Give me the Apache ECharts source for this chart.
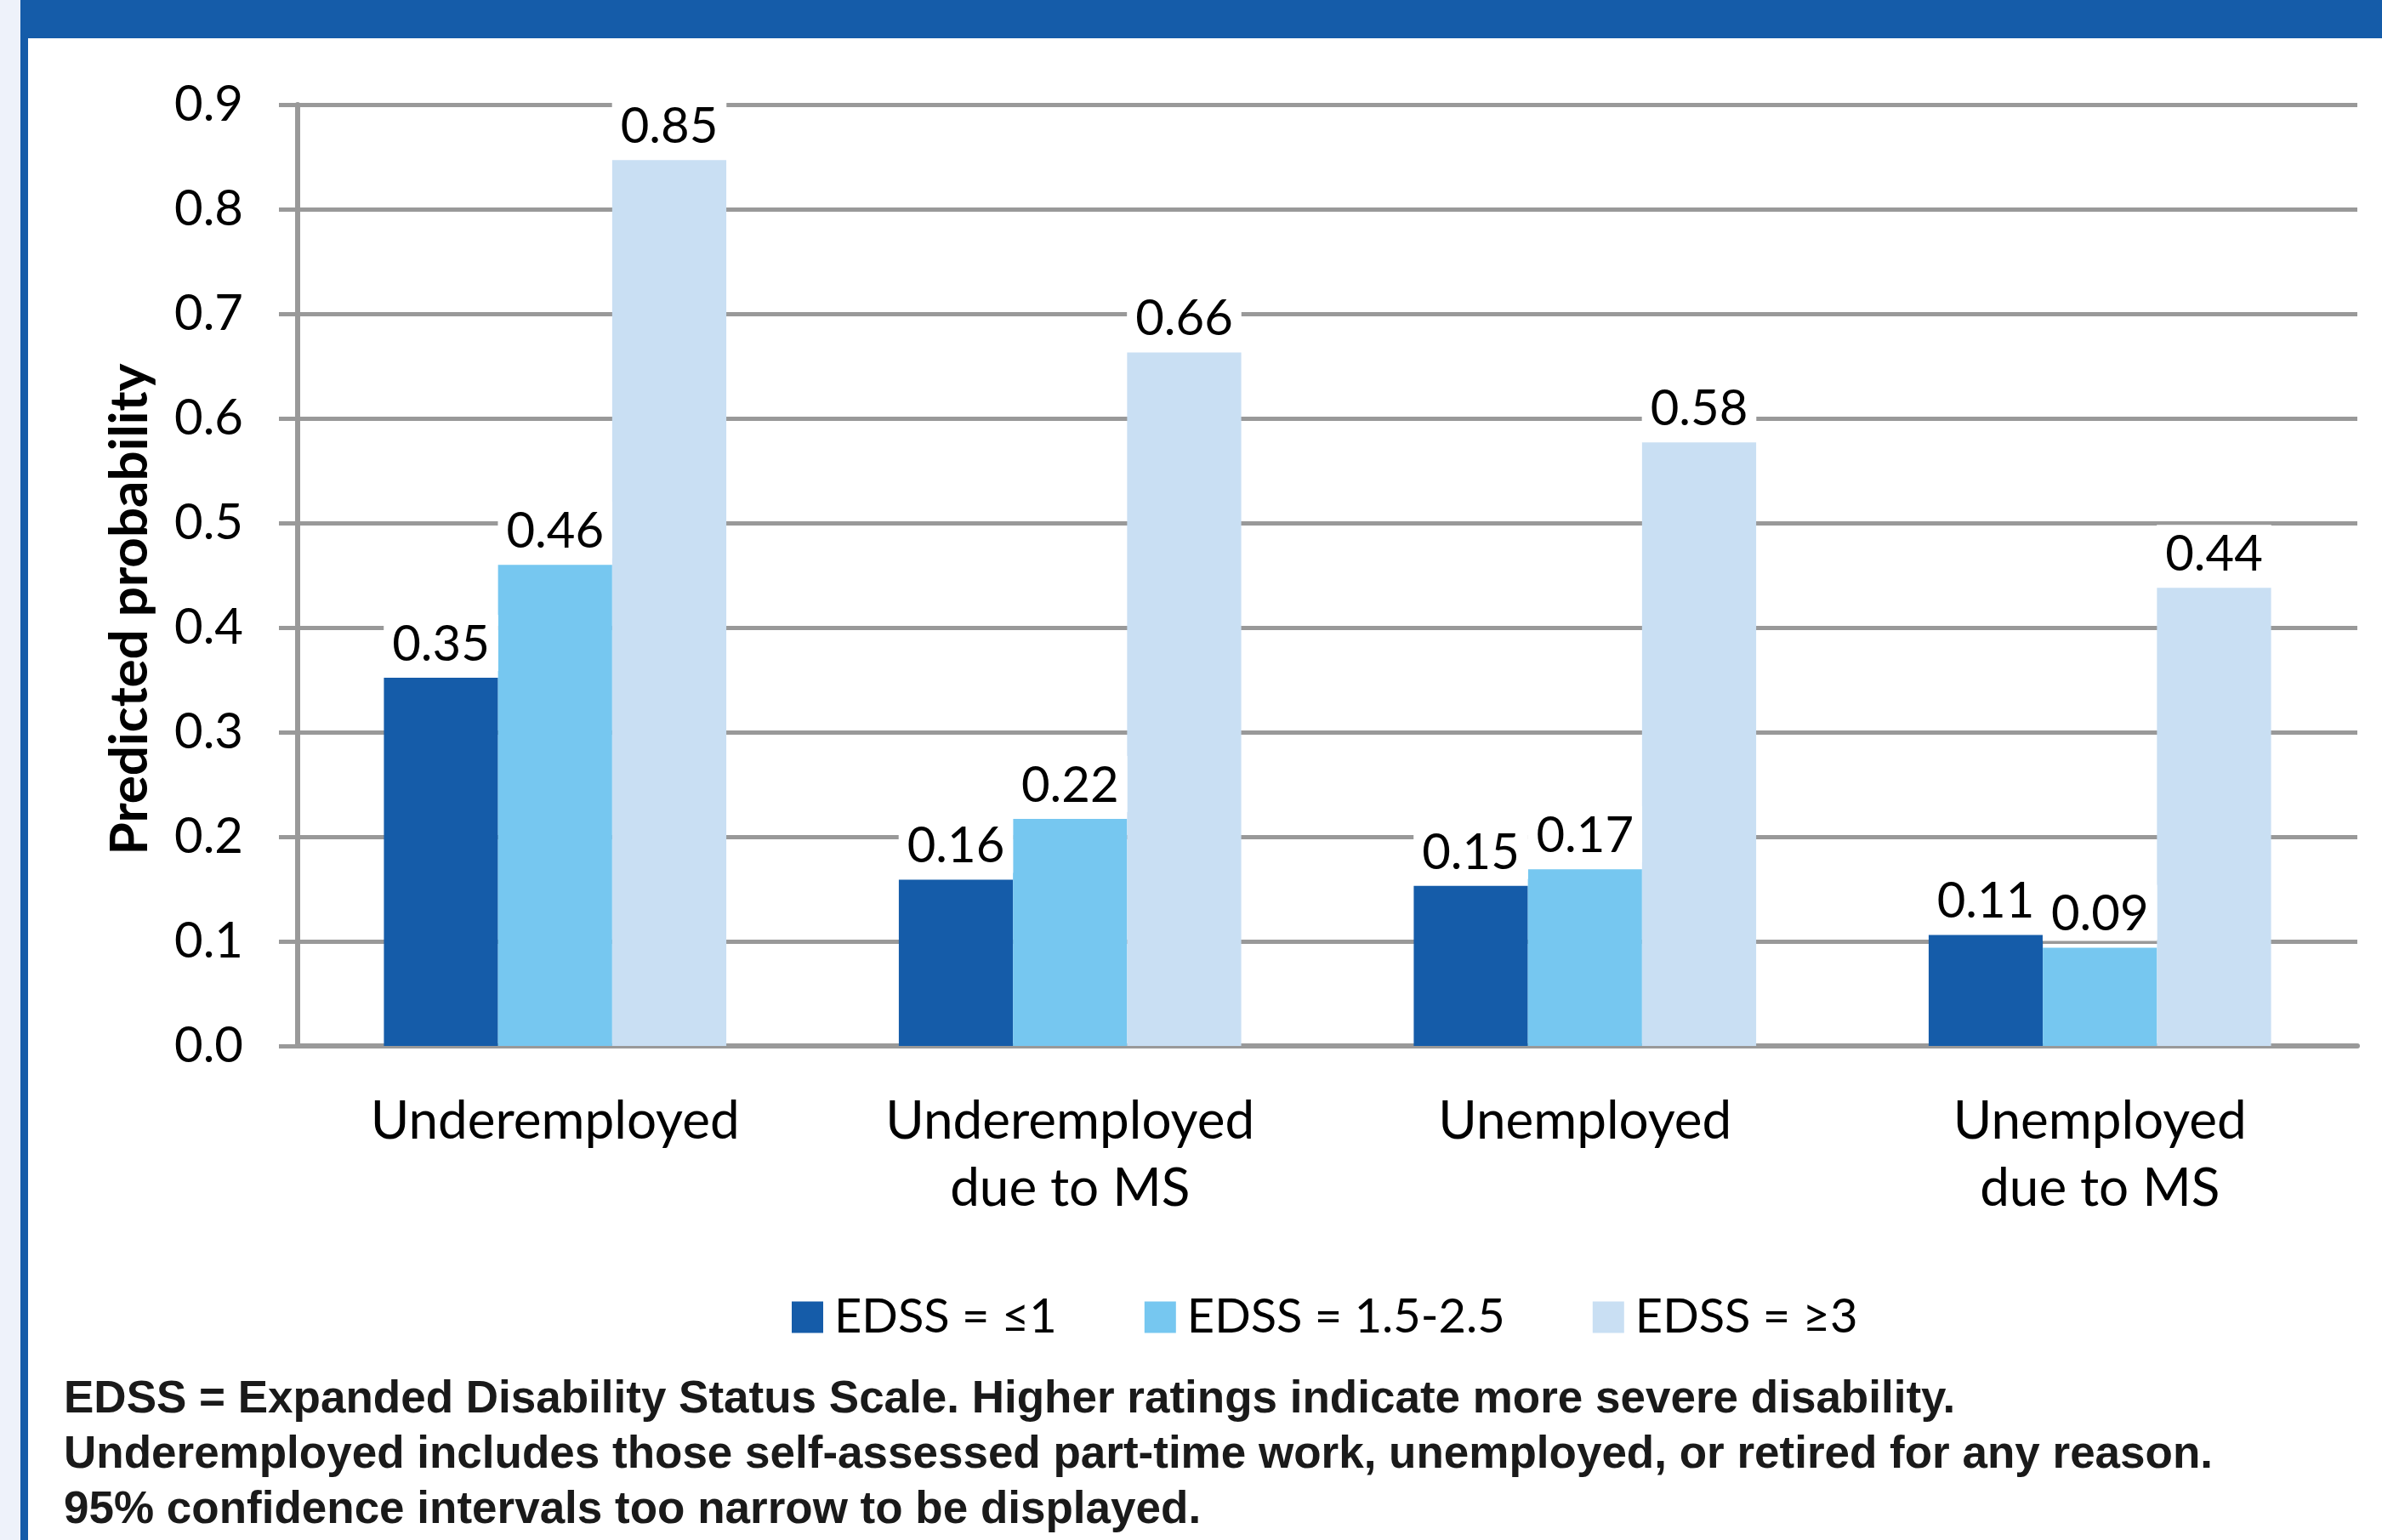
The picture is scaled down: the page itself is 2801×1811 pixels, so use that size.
<!DOCTYPE html>
<html>
<head>
<meta charset="utf-8">
<title>Predicted probability by EDSS</title>
<script src="https://cdn.jsdelivr.net/npm/echarts@6/dist/echarts.min.js"></script>
<style>
  html, body { margin: 0; padding: 0; background: #fff; }
  #chart { width: 2801px; height: 1811px; }
</style>
</head>
<body>
<div id="chart"></div>
<script>
var categories = ['Underemployed', 'Underemployed\ndue to MS', 'Unemployed', 'Unemployed\ndue to MS'];
var seriesNames = ['EDSS = ≤1', 'EDSS = 1.5-2.5', 'EDSS = ≥3'];
// bar heights, labels show them rounded to 2 decimals
var edssLow = [0.352, 0.159, 0.153, 0.106];
var edssMid = [0.46, 0.217, 0.169, 0.094];
var edssHigh = [0.847, 0.663, 0.577, 0.438];
var yTicks = [0, 0.1, 0.2, 0.3, 0.4, 0.5, 0.6, 0.7, 0.8, 0.9];
var footnote = [
    'EDSS = Expanded Disability Status Scale. Higher ratings indicate more severe disability.',
    'Underemployed includes those self-assessed part-time work, unemployed, or retired for any reason.',
    '95% confidence intervals too narrow to be displayed.'
];

var colors = ['#155ca9', '#76c7f0', '#c9dff3'];
var font = 'Lato';

var myChart = echarts.init(document.getElementById('chart'));

function barSeries(name, data, i) {
    return {
        name: name,
        type: 'bar',
        data: data,
        barGap: '0%',
        barCategoryGap: '33.5%',
        itemStyle: { color: colors[i] },
        label: {
            show: true,
            position: 'top',
            distance: 8,
            fontFamily: font,
            fontSize: 58,
            color: '#000',
            backgroundColor: '#fff',
            padding: [6, 10, 2, 10],
            formatter: function (p) { return p.value.toFixed(2) }
        }
    }
}

myChart.setOption({
    backgroundColor: '#fff',
    animation: false,
    textStyle: { fontFamily: font },
    grid: { left: 350, right: 29, top: 123, bottom: 581 },
    legend: {
        data: seriesNames,
        left: 926,
        top: 1516,
        itemWidth: 37,
        itemHeight: 37,
        itemGap: 103,
        icon: 'rect',
        textStyle: { fontFamily: font, fontSize: 56, color: '#000', padding: [0, 0, 0, 8] }
    },
    xAxis: {
        type: 'category',
        data: categories,
        axisLine: { lineStyle: { color: '#999', width: 6 } },
        axisTick: { show: false },
        axisLabel: {
            fontFamily: font,
            fontSize: 62,
            color: '#000',
            lineHeight: 79,
            margin: 49
        }
    },
    yAxis: {
        type: 'value',
        min: yTicks[0],
        max: yTicks[yTicks.length - 1],
        interval: 0.1,
        name: 'Predicted probability',
        nameLocation: 'middle',
        nameGap: 166,
        nameRotate: 90,
        nameTextStyle: {
            fontFamily: font,
            fontWeight: 'bold',
            fontSize: 62,
            color: '#000',
            padding: [0, 80, 0, 0]
        },
        axisLine: { show: true, lineStyle: { color: '#999', width: 6 } },
        axisTick: { show: true, length: 22, lineStyle: { color: '#999', width: 5 } },
        splitLine: { lineStyle: { color: '#999', width: 5 } },
        axisLabel: {
            fontFamily: font,
            fontSize: 58,
            color: '#000',
            margin: 64,
            formatter: function (v) { return v.toFixed(1) }
        }
    },
    graphic: [
        { type: 'rect', shape: { x: 0, y: 0, width: 24, height: 1811 }, style: { fill: '#eef2fa' }, z: -1 },
        { type: 'rect', shape: { x: 24, y: 0, width: 2777, height: 45 }, style: { fill: '#155ca9' } },
        { type: 'rect', shape: { x: 24, y: 45, width: 9, height: 1766 }, style: { fill: '#155ca9' } },
        {
            type: 'text',
            left: 75,
            top: 1614,
            style: {
                text: footnote.join('\n'),
                font: 'bold 53px "Liberation Sans Narrow", "Liberation Sans", sans-serif',
                lineHeight: 65,
                fill: '#1a1a1a'
            }
        }
    ],
    series: [
        barSeries(seriesNames[0], edssLow, 0),
        barSeries(seriesNames[1], edssMid, 1),
        barSeries(seriesNames[2], edssHigh, 2)
    ]
});
window.onresize = myChart.resize
</script>
</body>
</html>
